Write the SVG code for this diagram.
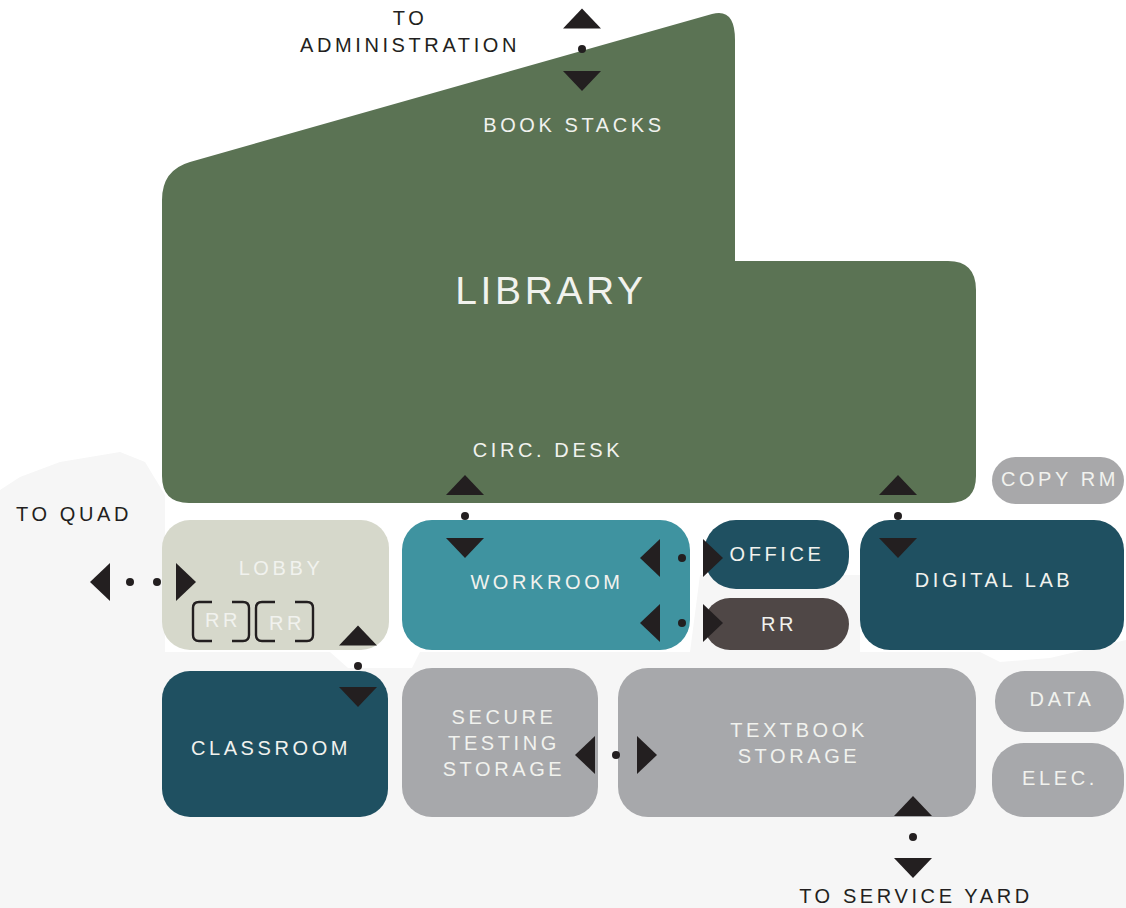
<svg xmlns="http://www.w3.org/2000/svg" width="1126" height="908" viewBox="0 0 1126 908">
<style>
.lbl{font-family:"Liberation Sans",Arial,sans-serif;font-size:20px;letter-spacing:3.6px;text-anchor:middle;fill:#f1f2ee}
.dk{fill:#231f20}
.big{font-size:39px;letter-spacing:3.6px}
.arr{fill:#231f20}
.brk{fill:none;stroke:#231f20;stroke-width:2.4}
</style>
<defs>
<path id="up" d="M0,-10 L19,10 L-19,10 Z"/>
<path id="dn" d="M0,10 L19,-10 L-19,-10 Z"/>
<path id="lf" d="M-10,0 L10,-19 L10,19 Z"/>
<path id="rt" d="M10,0 L-10,-19 L-10,19 Z"/>
</defs>
<rect width="1126" height="908" fill="#ffffff"/>
<g id="background">
<path d="M0,490 L20,477 L60,462 L120,452 L145,462 L165,495 L165,652 L330,652 L348,668 L412,668 L420,652 L690,652 L700,575 L860,575 L860,652 L980,652 L1000,662 L1050,658 L1126,640 L1126,908 L0,908 Z" fill="#f6f6f6"/>
</g>
<g id="library">
<path d="M162,200 Q162,170 190,162 L712,14 Q735,7.5 735,40 L735,261 L948,261 Q976,261 976,290 L976,476 Q976,503 949,503 L189,503 Q162,503 162,476 Z" fill="#5b7354"/>
<text class="lbl" x="574" y="132">BOOK STACKS</text>
<text class="lbl big" x="551" y="304">LIBRARY</text>
<text class="lbl" x="548" y="457">CIRC. DESK</text>
</g>
<g id="lobby">
<rect x="162" y="520" width="227" height="130" rx="28" fill="#d6d8cb"/>
<text class="lbl" x="281" y="575">LOBBY</text>
<path class="brk" d="M212,602 L199,602 Q193,602 193,608 L193,635 Q193,641 199,641 L212,641 M232,602 L243,602 Q249,602 249,608 L249,635 Q249,641 243,641 L232,641"/>
<path class="brk" d="M275,602 L262,602 Q256,602 256,608 L256,635 Q256,641 262,641 L275,641 M295,602 L307,602 Q313,602 313,608 L313,635 Q313,641 307,641 L295,641"/>
<text class="lbl" x="223" y="627">RR</text>
<text class="lbl" x="287" y="630">RR</text>
</g>
<g id="workroom">
<rect x="402" y="520" width="288" height="130" rx="30" fill="#3f93a0"/>
<text class="lbl" x="547" y="589">WORKROOM</text>
</g>
<g id="office">
<rect x="704" y="520" width="145" height="69" rx="32" fill="#1f5061"/>
<text class="lbl" x="777" y="561">OFFICE</text>
</g>
<g id="rr">
<rect x="704" y="598" width="145" height="52" rx="26" fill="#4f4746"/>
<text class="lbl" x="779" y="631">RR</text>
</g>
<g id="digital-lab">
<rect x="860" y="520" width="264" height="130" rx="30" fill="#1f5061"/>
<text class="lbl" x="994" y="587">DIGITAL LAB</text>
</g>
<g id="copy-rm">
<rect x="992" y="457" width="132" height="47" rx="23.5" fill="#a8a8aa"/>
<text class="lbl" x="1060" y="486">COPY RM</text>
</g>
<g id="classroom">
<rect x="162" y="671" width="226" height="146" rx="28" fill="#1f5061"/>
<text class="lbl" x="271" y="755">CLASSROOM</text>
</g>
<g id="secure-testing-storage">
<rect x="402" y="668" width="196" height="149" rx="30" fill="#a7a8ab"/>
<text class="lbl" x="504" y="724">SECURE</text>
<text class="lbl" x="504" y="750">TESTING</text>
<text class="lbl" x="504" y="776">STORAGE</text>
</g>
<g id="textbook-storage">
<rect x="618" y="668" width="358" height="149" rx="30" fill="#a7a8ab"/>
<text class="lbl" x="799" y="737">TEXTBOOK</text>
<text class="lbl" x="799" y="763">STORAGE</text>
</g>
<g id="data">
<rect x="995" y="671" width="129" height="61" rx="30" fill="#a7a8ab"/>
<text class="lbl" x="1062" y="706">DATA</text>
</g>
<g id="elec">
<rect x="992" y="743" width="132" height="74" rx="32" fill="#a7a8ab"/>
<text class="lbl" x="1060" y="785">ELEC.</text>
</g>
<g id="labels">
<text class="lbl dk" x="410" y="25">TO</text>
<text class="lbl dk" x="410" y="52">ADMINISTRATION</text>
<text class="lbl dk" x="74" y="521">TO QUAD</text>
<text class="lbl dk" x="916" y="903">TO SERVICE YARD</text>
</g>
<g id="connectors" class="arr">
<use href="#up" x="582" y="18.5"/><circle cx="582" cy="49" r="4"/><use href="#dn" x="582" y="81"/>
<use href="#up" x="465" y="485"/><circle cx="465" cy="516" r="4"/><use href="#dn" x="465" y="548"/>
<use href="#up" x="898" y="485"/><circle cx="898" cy="516" r="4"/><use href="#dn" x="898" y="548"/>
<use href="#up" x="358" y="635.5"/><circle cx="358" cy="666" r="4"/><use href="#dn" x="358" y="697"/>
<use href="#up" x="913" y="806"/><circle cx="913" cy="837" r="4"/><use href="#dn" x="913" y="868"/>
<use href="#lf" x="100" y="582"/><circle cx="130" cy="582" r="4"/><circle cx="157" cy="582" r="4"/><use href="#rt" x="186" y="582"/>
<use href="#lf" x="650" y="558"/><circle cx="682" cy="558" r="4"/><use href="#rt" x="713" y="558"/>
<use href="#lf" x="650" y="623"/><circle cx="682" cy="623" r="4"/><use href="#rt" x="713" y="623"/>
<use href="#lf" x="585" y="755"/><circle cx="616" cy="755" r="4"/><use href="#rt" x="647" y="755"/>
</g>
</svg>
